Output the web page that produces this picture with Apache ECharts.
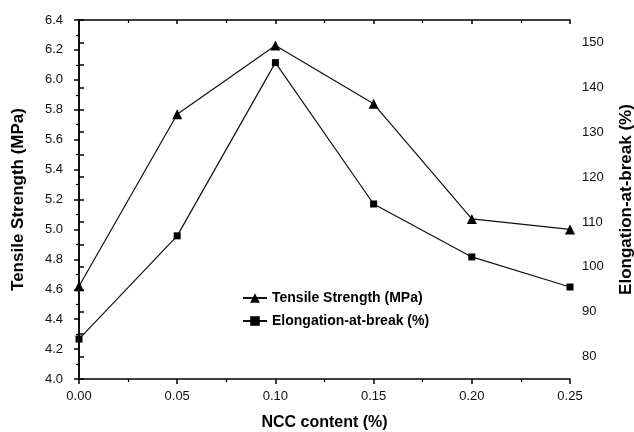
<!DOCTYPE html>
<html>
<head>
<meta charset="utf-8">
<script src="https://cdn.jsdelivr.net/npm/echarts@6/dist/echarts.min.js"></script>
<style>html,body{margin:0;padding:0;background:#fff}#c{width:634px;height:432px}</style>
</head>
<body>
<div id="c"></div>
<script>
const nccContent = [0.00, 0.05, 0.10, 0.15, 0.20, 0.25];
const tensileStrength = [4.62, 5.77, 6.23, 5.84, 5.07, 5.00];
const elongationAtBreak = [83.9, 106.9, 145.5, 114.0, 102.2, 95.5];
const seriesNames = ['Tensile Strength (MPa)', 'Elongation-at-break (%)'];

const FONT = 'Liberation Sans, Arial, sans-serif';
const chart = echarts.init(document.getElementById('c'));
const axisLine = {show: true, lineStyle: {color: '#000', width: 1.5}};
const labelStyle = {color: '#111', fontSize: 13, fontFamily: FONT};
const nameStyleX = {color: '#000', fontSize: 16, fontWeight: 'bold', fontFamily: FONT};
const nameStyleY = {color: '#000', fontSize: 17, fontWeight: 'bold', fontFamily: FONT};

chart.setOption({
  animation: false,
  backgroundColor: '#fff',
  grid: {left: 79, right: 64, top: 20, bottom: 53, containLabel: false, outerBoundsMode: 'none'},
  legend: {
    orient: 'vertical', left: 237, top: 286, itemGap: 9,
    itemWidth: 24, itemHeight: 12,
    textStyle: {color: '#000', fontSize: 14, fontWeight: 'bold', fontFamily: FONT},
    data: seriesNames
  },
  xAxis: [{
    type: 'value', min: 0, max: 0.25, interval: 0.05,
    name: 'NCC content (%)', nameLocation: 'middle', nameGap: 36, nameTextStyle: nameStyleX,
    axisLine: axisLine,
    axisTick: {show: true, inside: false, length: 5, lineStyle: {color: '#000', width: 1.5}},
    minorTick: {show: true, splitNumber: 2, length: 3, lineStyle: {color: '#000', width: 1.2}},
    axisLabel: Object.assign({margin: 11, formatter: v => v.toFixed(2)}, labelStyle),
    splitLine: {show: false}
  }, {
    type: 'value', position: 'top', min: 0, max: 0.25, interval: 0.05,
    axisLine: axisLine,
    axisTick: {show: true, inside: true, length: 4, lineStyle: {color: '#000', width: 1.5}},
    minorTick: {show: true, splitNumber: 2, length: 3, lineStyle: {color: '#000', width: 1.2}},
    axisLabel: {show: false}, splitLine: {show: false}
  }],
  yAxis: [{
    type: 'value', min: 4.0, max: 6.4, interval: 0.2,
    name: 'Tensile Strength (MPa)', nameLocation: 'middle', nameGap: 52, nameRotate: 90,
    nameTextStyle: nameStyleY,
    axisLine: axisLine,
    axisTick: {show: true, inside: false, length: 5, lineStyle: {color: '#000', width: 1.5}},
    minorTick: {show: true, splitNumber: 2, length: 3, lineStyle: {color: '#000', width: 1.2}},
    axisLabel: Object.assign({margin: 16, formatter: v => v.toFixed(1)}, labelStyle),
    splitLine: {show: false}
  }, {
    type: 'value', position: 'right', min: 75, max: 155, interval: 5,
    name: 'Elongation-at-break (%)', nameLocation: 'middle', nameGap: 48, nameRotate: 90,
    nameTextStyle: nameStyleY,
    axisLine: axisLine,
    axisTick: {show: true, inside: false, length: 5, lineStyle: {color: '#000', width: 1.5}},
    axisLabel: Object.assign({margin: 12, formatter: v => (v % 10 === 0 ? String(v) : '')}, labelStyle),
    splitLine: {show: false}
  }],
  series: [{
    name: seriesNames[0], type: 'line', xAxisIndex: 0, yAxisIndex: 0,
    data: nccContent.map((x, i) => [x, tensileStrength[i]]),
    symbol: 'triangle', symbolSize: 10, showAllSymbol: true,
    lineStyle: {color: '#111', width: 1.2},
    itemStyle: {color: '#000'}
  }, {
    name: seriesNames[1], type: 'line', xAxisIndex: 0, yAxisIndex: 1,
    data: nccContent.map((x, i) => [x, elongationAtBreak[i]]),
    symbol: 'rect', symbolSize: 7, showAllSymbol: true,
    lineStyle: {color: '#111', width: 1.2},
    itemStyle: {color: '#000'}
  }]
});
</script>
</body>
</html>
